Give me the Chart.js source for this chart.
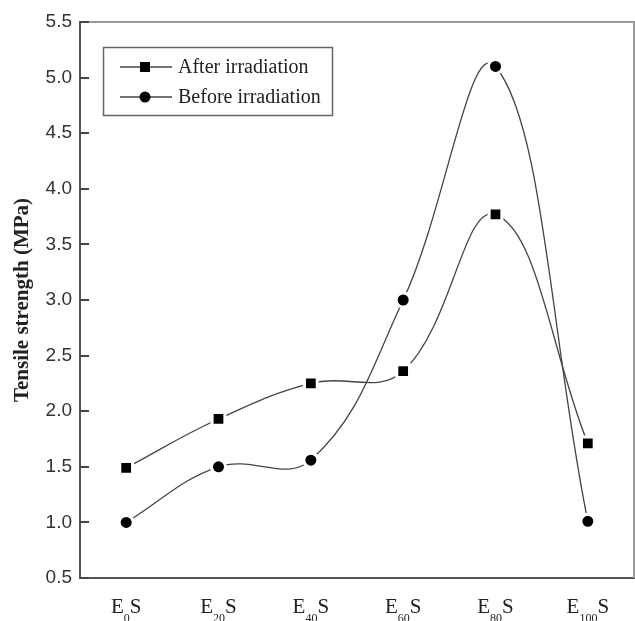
<!DOCTYPE html>
<html>
<head>
<meta charset="utf-8">
<script src="https://cdn.jsdelivr.net/npm/chart.js@4.4.0/dist/chart.umd.min.js"></script>
<style>
  html, body { margin: 0; padding: 0; background: #fff; }
  canvas { display: block; }
</style>
</head>
<body>
<canvas id="tensileChart" width="635" height="621"></canvas>
<script>
// E_xS samples, x = subscript
const subscripts = ['0', '20', '40', '60', '80', '100'];
const labels = subscripts.map(s => 'E' + s + 'S');

const afterIrradiation = [1.49, 1.93, 2.25, 2.36, 3.77, 1.71];
const beforeIrradiation = [1.0, 1.5, 1.56, 3.0, 5.1, 1.01];

const yTicks = [0.5, 1.0, 1.5, 2.0, 2.5, 3.0, 3.5, 4.0, 4.5, 5.0, 5.5];

const SERIF = '"Liberation Serif", "Times New Roman", serif';
const SANS = '"Liberation Sans", Arial, sans-serif';

// box top/right, inward y ticks, subscript x labels, legend
const framePlugin = {
  id: 'frame',
  afterDraw(chart) {
    const ctx = chart.ctx;
    const area = chart.chartArea;
    const x = chart.scales.x;
    const y = chart.scales.y;

    ctx.save();
    ctx.strokeStyle = '#9a9a9a';
    ctx.lineWidth = 2;
    ctx.beginPath();
    ctx.moveTo(area.left, area.top);
    ctx.lineTo(area.right, area.top);
    ctx.lineTo(area.right, area.bottom);
    ctx.stroke();

    ctx.strokeStyle = '#444';
    ctx.lineWidth = 2;
    yTicks.forEach(v => {
      const py = Math.round(y.getPixelForValue(v));
      ctx.beginPath();
      ctx.moveTo(area.left, py);
      ctx.lineTo(area.left + 9, py);
      ctx.stroke();
    });

    // x labels: E, subscript, S
    ctx.fillStyle = '#222';
    ctx.textBaseline = 'alphabetic';
    ctx.textAlign = 'left';
    const big = '21px ' + SERIF;
    const small = '12px ' + SERIF;
    subscripts.forEach((s, i) => {
      const px = x.getPixelForTick(i);
      ctx.font = big;
      const wE = ctx.measureText('E').width;
      const wS = ctx.measureText('S').width;
      ctx.font = small;
      const wSub = ctx.measureText(s).width;
      let sx = px - (wE + wSub + wS) / 2;
      ctx.font = big;
      ctx.fillText('E', sx, 613);
      ctx.font = small;
      ctx.fillText(s, sx + wE, 622);
      ctx.font = big;
      ctx.fillText('S', sx + wE + wSub, 613);
    });

    // legend
    ctx.strokeStyle = '#666';
    ctx.lineWidth = 1.5;
    ctx.strokeRect(103.5, 47.5, 229, 68);
    const rows = [67, 97];
    chart.data.datasets.forEach((ds, i) => {
      const ry = rows[i];
      ctx.strokeStyle = '#444';
      ctx.lineWidth = 1.3;
      ctx.beginPath();
      ctx.moveTo(120, ry);
      ctx.lineTo(172, ry);
      ctx.stroke();
      ctx.fillStyle = '#000';
      if (ds.pointStyle === 'rect') {
        ctx.fillRect(140, ry - 5, 10, 10);
      } else {
        ctx.beginPath();
        ctx.arc(145, ry, 5.5, 0, Math.PI * 2);
        ctx.fill();
      }
      ctx.fillStyle = '#222';
      ctx.font = '20px ' + SERIF;
      ctx.textBaseline = 'middle';
      ctx.fillText(ds.label, 178, ry + 1);
    });
    ctx.restore();
  }
};

const ctx = document.getElementById('tensileChart').getContext('2d');

new Chart(ctx, {
  type: 'line',
  data: {
    labels,
    datasets: [
      {
        label: 'After irradiation',
        data: afterIrradiation,
        borderColor: '#444',
        borderWidth: 1.3,
        tension: 0.4,
        pointStyle: 'rect',
        pointRadius: 9,
        pointBackgroundColor: '#000',
        pointBorderColor: '#fff',
        pointBorderWidth: 3
      },
      {
        label: 'Before irradiation',
        data: beforeIrradiation,
        borderColor: '#444',
        borderWidth: 1.3,
        tension: 0.4,
        pointStyle: 'circle',
        pointRadius: 7,
        pointBackgroundColor: '#000',
        pointBorderColor: '#fff',
        pointBorderWidth: 3
      }
    ]
  },
  options: {
    responsive: false,
    animation: false,
    layout: { autoPadding: false, padding: { top: 22, right: 1, left: 0, bottom: 0 } },
    plugins: {
      legend: { display: false },
      tooltip: { enabled: false }
    },
    scales: {
      x: {
        type: 'category',
        offset: true,
        grid: { display: false, drawTicks: false },
        border: { display: true, color: '#555', width: 2 },
        ticks: { display: false },
        afterFit: scale => { scale.height = 43; }
      },
      y: {
        min: 0.5,
        max: 5.5,
        grid: { display: false, drawTicks: false },
        border: { display: true, color: '#555', width: 2 },
        ticks: {
          stepSize: 0.5,
          padding: 8,
          color: '#333',
          font: { family: SANS, size: 19 },
          callback: v => Number(v).toFixed(1)
        },
        title: {
          display: true,
          text: 'Tensile strength (MPa)',
          color: '#222',
          font: { family: SERIF, size: 21, weight: 'bold' },
          padding: { top: 10, bottom: 0 }
        },
        afterFit: scale => { scale.width = 80; }
      }
    }
  },
  plugins: [framePlugin]
});
</script>
</body>
</html>
